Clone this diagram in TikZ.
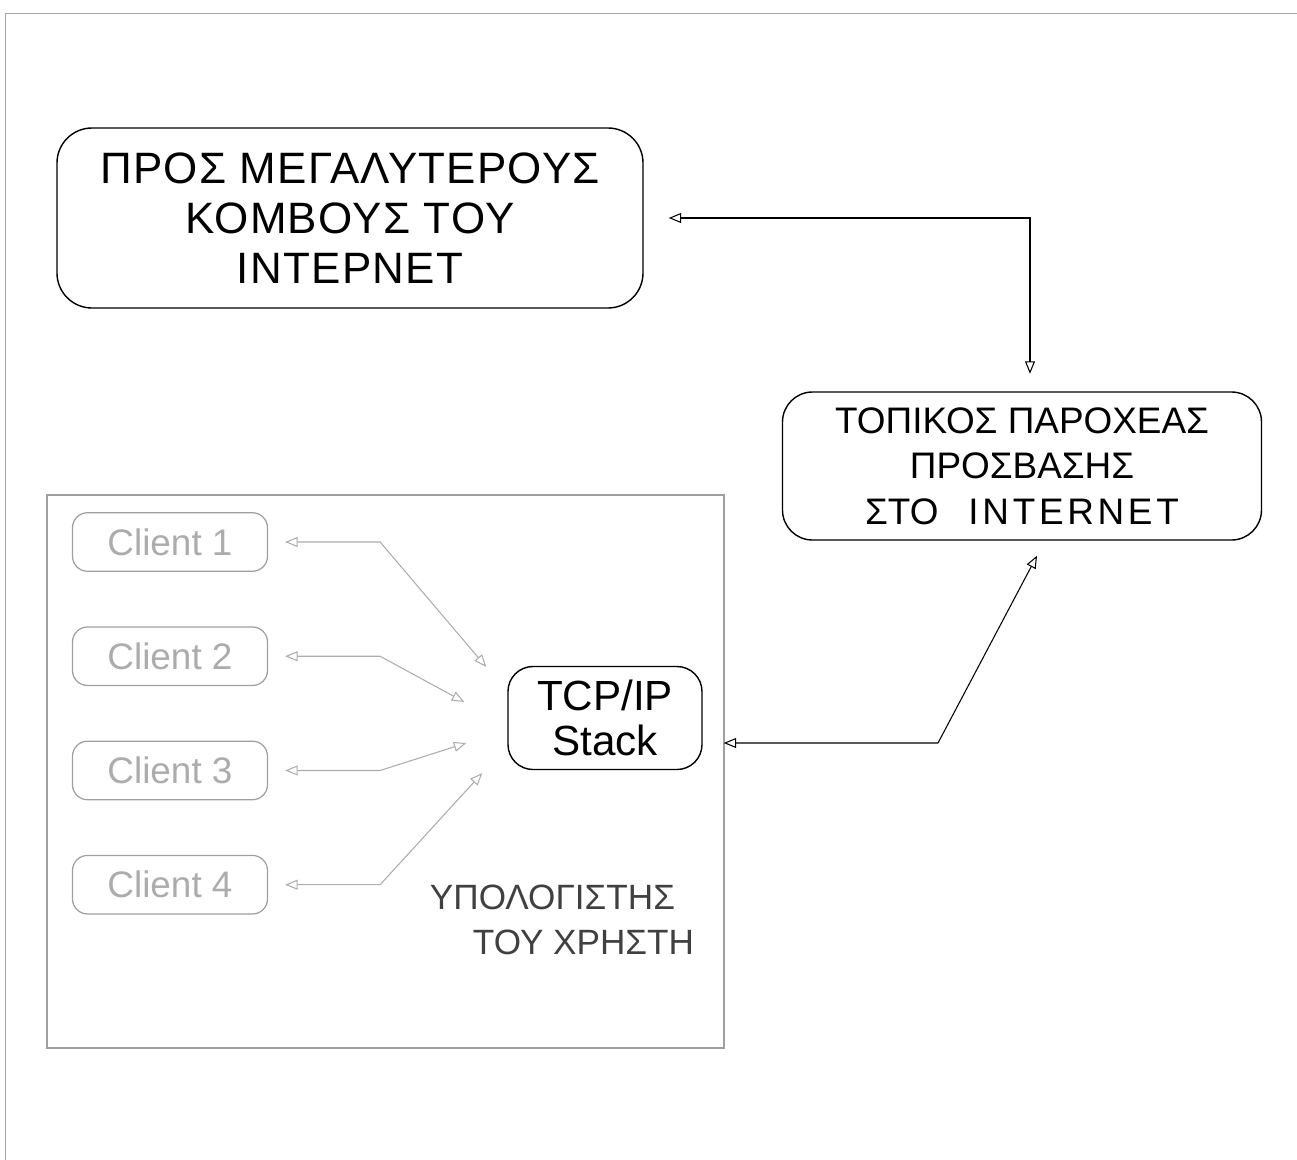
\documentclass[tikz,border=0pt]{standalone}
\usepackage{fontspec}
\setmainfont{Liberation Sans}
\usetikzlibrary{arrows.meta,positioning}

\tikzset{
  bigbox/.style={draw, line width=0.8pt, align=center, inner sep=0pt},
  clientbox/.style={draw=gray!75, text=gray!65, line width=0.7pt, rounded corners=0.3cm,
    minimum width=3.9cm, minimum height=1.17cm, font=\fontsize{21}{24}\selectfont},
  link/.style={<->, line width=0.6pt},
  clink/.style={<->, gray!65, line width=0.6pt},
}

\begin{document}
\begin{tikzpicture}[x=0.2mm, y=-0.2mm, node distance=1.09cm,
  >={Triangle[open, length=2.5mm, width=2mm]}]
  \useasboundingbox (0,0) rectangle (1297,1160);
  % scan frame
  \draw[gray!70, line width=0.5pt] (5,1160) -- (5,13) -- (1297,13);

  \node[bigbox, rounded corners=0.7cm, minimum width=11.72cm, minimum height=3.6cm,
    font=\fontsize{25}{28.5}\selectfont\addfontfeature{LetterSpace=3}] (net) at (350,218)
    {ΠΡΟΣ ΜΕΓΑΛΥΤΕΡΟΥΣ\\ΚΟΜΒΟΥΣ ΤΟΥ\\ΙΝΤΕΡΝΕΤ};
  \node[bigbox, rounded corners=0.6cm, minimum width=9.58cm, minimum height=2.96cm,
    font=\fontsize{21}{26}\selectfont] (isp) at (1022,466)
    {ΤΟΠΙΚΟΣ ΠΑΡΟΧΕΑΣ\\ΠΡΟΣΒΑΣΗΣ\\ΣΤΟ\hspace{0.6cm}{\addfontfeature{LetterSpace=10}INTERNET}};

  % user computer
  \node[draw=gray!75, line width=0.7pt, minimum width=13.54cm, minimum height=11.06cm]
    (pc) at (385.5,771.5) {};
  \node[text=black!75, align=left, font=\fontsize{20}{26}\selectfont] (pclabel) at (562,920)
    {ΥΠΟΛΟΓΙΣΤΗΣ\\\hspace*{0.86cm}ΤΟΥ ΧΡΗΣΤΗ};
  \node[bigbox, rounded corners=0.5cm, minimum width=3.88cm, minimum height=2.06cm,
    font=\fontsize{24}{25.6}\selectfont] (tcp) at (605,718) {TCP/IP\\Stack};

  \node[clientbox] (c1) at (170,542) {Client 1};
  \node[clientbox, below=of c1] (c2) {Client 2};
  \node[clientbox, below=of c2] (c3) {Client 3};
  \node[clientbox, below=of c3] (c4) {Client 4};

  % links
  \coordinate (kink) at (938,743);
  \draw[link, shorten <=0.5cm, shorten >=0.35cm] (net.east) -| ([xshift=0.16cm]isp.north);
  \draw[link] ([shift={(15,15)}]isp.south) -- (kink) -- ([xshift=0.42cm]tcp.east |- kink);
  \foreach \i/\dx/\dy in {1/-21/-51, 2/-43/-16, 3/-41/25, 4/-25/55}
    \draw[clink] ([xshift=0.34cm]c\i.east) -- ++(95,0) -- ([shift={(\dx,\dy)}]tcp.west);
\end{tikzpicture}
\end{document}
